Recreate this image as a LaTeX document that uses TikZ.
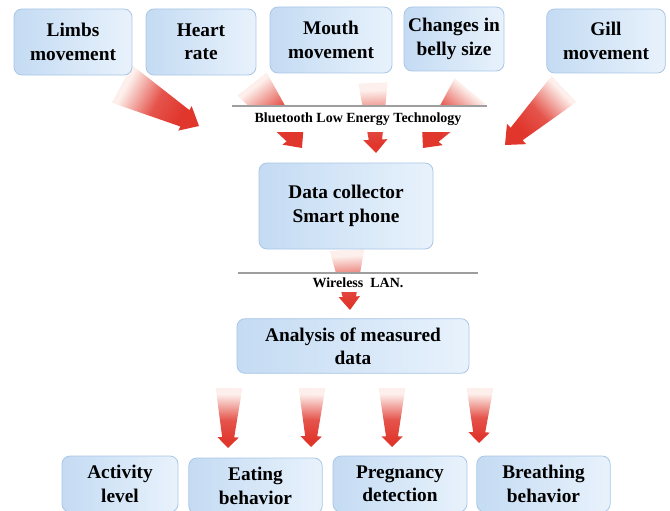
\documentclass[tikz,border=0pt]{standalone}
\usepackage{fontspec}
\setmainfont{Liberation Serif}
\usetikzlibrary{calc}

\definecolor{boxdark}{HTML}{C4DBF3}
\definecolor{boxlight}{HTML}{E8F2FC}
\definecolor{boxline}{HTML}{A9C6E6}
\definecolor{arrowred}{HTML}{E0362C}
\definecolor{arrowpale}{HTML}{FDF0EC}
\definecolor{bandline}{HTML}{9E9E9E}

\pgfdeclareverticalshading{fatshade}{100bp}{color(0bp)=(arrowred); color(30bp)=(arrowred);
  color(48bp)=(arrowred!85!white); color(70bp)=(arrowpale); color(100bp)=(arrowpale)}

% fat shaded arrow: tail, tip, tail half width, shaft half width, head half width, head length
\newcommand{\fatarrow}[6]{%
  \coordinate (neck) at ($(#2)!#6!(#1)$);
  \pgfmathanglebetweenpoints{\pgfpointanchor{#1}{center}}{\pgfpointanchor{#2}{center}}%
  \pgfmathsetmacro{\shadeang}{\pgfmathresult+90}%
  \shade[shading=fatshade, shading angle=\shadeang]
    ($(#1)!#3!90:(#2)$) -- ($(neck)!#4!-90:(#1)$) -- ($(neck)!#5!-90:(#1)$) -- (#2)
    -- ($(neck)!#5!90:(#1)$) -- ($(neck)!#4!90:(#1)$) -- ($(#1)!#3!-90:(#2)$) -- cycle;
}

\begin{document}
\begin{tikzpicture}[x=0.75pt, y=-0.75pt,
  box/.style={draw=boxline, line width=0.6pt, rounded corners=6pt, left color=boxdark, right color=boxlight,
    align=center, inner sep=0pt, font=\fontsize{14.5}{17.5}\selectfont\bfseries},
  band/.style={fill=white, inner sep=0pt, font=\fontsize{10.5}{12}\selectfont\bfseries},
  bandrule/.style={draw=bandline, line width=1.5pt}]

\useasboundingbox (0,0) rectangle (670,510);

\coordinate (limbs_t) at (122,84);
\coordinate (limbs_h) at (199,126);
\coordinate (heart_t) at (252,84);
\coordinate (heart_h) at (302,148);
\coordinate (mouth_t) at (373,83);
\coordinate (mouth_h) at (376,153);
\coordinate (belly_t) at (470,91);
\coordinate (belly_h) at (423,148);
\coordinate (gill_t) at (564,89);
\coordinate (gill_h) at (505,145);
\coordinate (phone_t) at (347,250);
\coordinate (phone_h) at (350,310);
\coordinate (res_t1) at (229,388);
\coordinate (res_h1) at (228,448);
\coordinate (res_t2) at (312,388);
\coordinate (res_h2) at (311,447);
\coordinate (res_t3) at (392,388);
\coordinate (res_h3) at (392,447);
\coordinate (res_t4) at (480,388);
\coordinate (res_h4) at (479,443);

\fatarrow{limbs_t}{limbs_h}{16pt}{7pt}{10.5pt}{12pt}
\fatarrow{heart_t}{heart_h}{14pt}{6pt}{10pt}{11pt}
\fatarrow{mouth_t}{mouth_h}{11pt}{5pt}{9pt}{10pt}
\fatarrow{belly_t}{belly_h}{15pt}{6pt}{10pt}{11pt}
\fatarrow{gill_t}{gill_h}{13.5pt}{6.5pt}{10.5pt}{12pt}
\fatarrow{phone_t}{phone_h}{13pt}{5pt}{8pt}{10pt}
\fatarrow{res_t1}{res_h1}{10pt}{4.5pt}{8pt}{8pt}
\fatarrow{res_t2}{res_h2}{10pt}{4.5pt}{8pt}{8pt}
\fatarrow{res_t3}{res_h3}{10pt}{4.5pt}{8pt}{8pt}
\fatarrow{res_t4}{res_h4}{10pt}{4.5pt}{8pt}{8pt}

\node [band, minimum width=185pt, minimum height=19pt] (ble) at (358,119) {Bluetooth Low Energy Technology};
\node [band, minimum width=180pt, minimum height=14pt] (wlan) at (358,283) {Wireless\ \ LAN.};
\draw [bandrule] ([xshift=-1.5pt]ble.north west) -- ([xshift=3.75pt]ble.north east);
\draw [bandrule] (wlan.north west) -- (wlan.north east);

\node [box, minimum width=88.5pt, minimum height=49.5pt] (limbs) at (73,42) {Limbs\\movement};
\node [box, minimum width=82.5pt, minimum height=49.5pt] (heart) at (201,42) {Heart\\rate};
\node [box, minimum width=91.5pt, minimum height=49.5pt] (mouth) at (331,40) {Mouth\\movement};
\node [box, minimum width=75pt, minimum height=48pt] (belly) at (454,39) {Changes in\\belly size};
\node [box, minimum width=89pt, minimum height=48pt] (gill) at (606,41) {Gill\\movement};

\node [box, minimum width=130.5pt, minimum height=64.5pt] (phone) at (346,206) {Data collector\\Smart phone};
\node [box, minimum width=174pt, minimum height=41pt] (analysis) at (353,346) {Analysis of measured\\data};

\node [box, minimum width=87pt, minimum height=42pt] (activity) at (120,484) {Activity\\level};
\node [box, minimum width=100pt, minimum height=42pt] (eating) at (255.5,486) {Eating\\behavior};
\node [box, minimum width=100.5pt, minimum height=42pt] (pregnancy) at (400,484) {Pregnancy\\detection};
\node [box, minimum width=100pt, minimum height=42pt] (breathing) at (543.5,484) {Breathing\\behavior};

\end{tikzpicture}
\end{document}
